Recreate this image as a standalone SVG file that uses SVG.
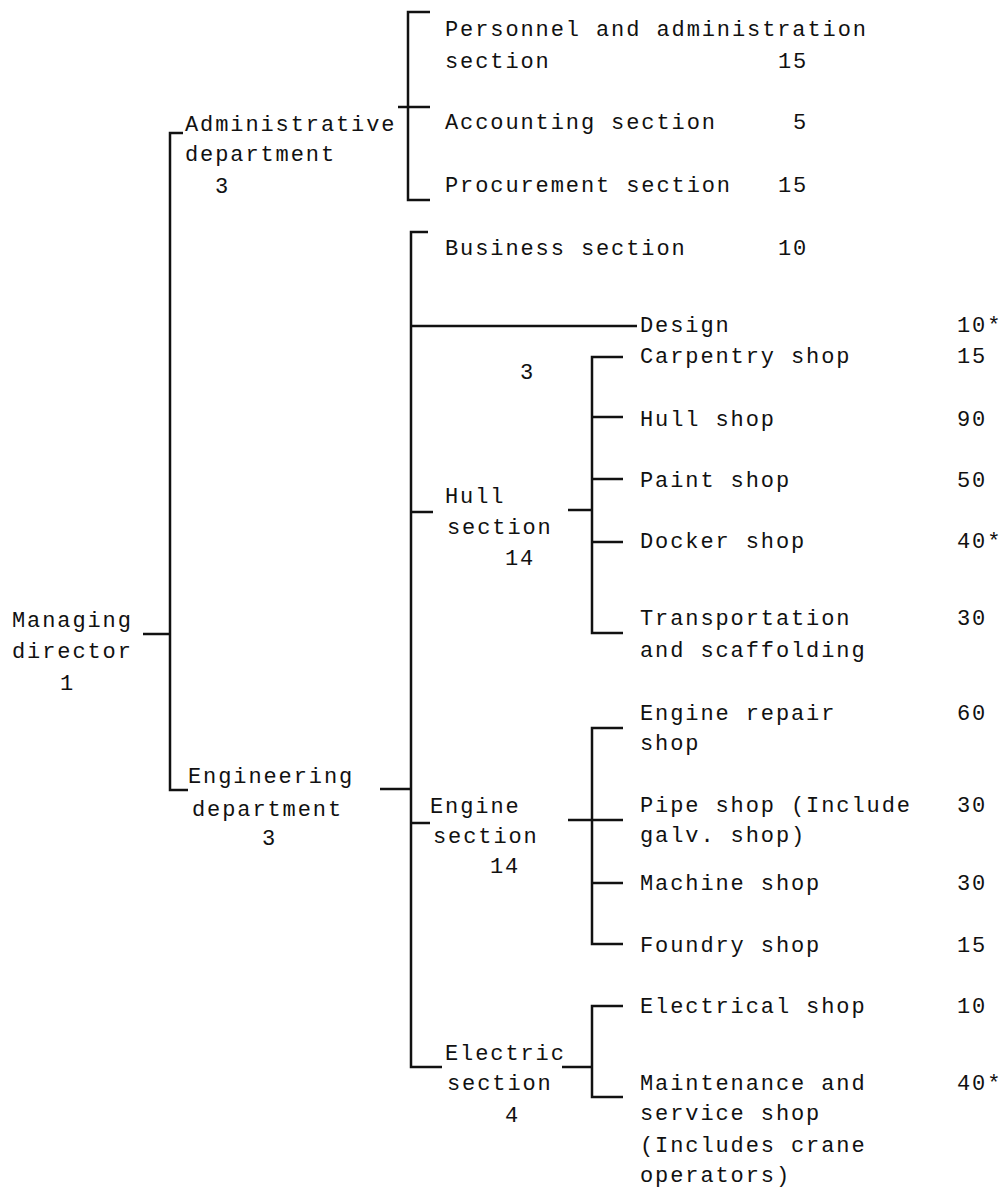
<svg xmlns="http://www.w3.org/2000/svg" width="1005" height="1189" viewBox="0 0 1005 1189">
<style>
text{font-family:"Liberation Mono","DejaVu Sans Mono",monospace;font-size:22px;letter-spacing:1.9px;fill:#111}
.ln{stroke:#111;stroke-width:2.5;fill:none}
</style>
<rect width="1005" height="1189" fill="#fff"/>
<g id="connectors" class="ln">
<path d="M143 634H170M183 133H170V790H188"/>
<path d="M430 12H408V200H430M398 107H430"/>
<path d="M380 789H411M428 232H411V1067H442M411 326H637M411 512H433M411 823H430"/>
<path d="M568 510H592M623 357H592V633H623M592 417H623M592 479H623M592 542H623"/>
<path d="M568 820H623M623 728H592V944H623M592 883H623"/>
<path d="M562 1067H592M623 1006H592V1097H623"/>
</g>
<g id="managing-director"><text x="12" y="627">Managing</text><text x="12" y="658">director</text><text x="60" y="690">1</text></g>
<g id="administrative-department"><text x="185" y="131">Administrative</text><text x="185" y="161">department</text><text x="215" y="193">3</text></g>
<g id="personnel-section"><text x="445" y="36">Personnel and administration</text><text x="445" y="68">section</text><text x="778" y="68">15</text></g>
<g id="accounting-section"><text x="445" y="129">Accounting section</text><text x="793" y="129">5</text></g>
<g id="procurement-section"><text x="445" y="192">Procurement section</text><text x="778" y="192">15</text></g>
<g id="engineering-department"><text x="188" y="783">Engineering</text><text x="192" y="816">department</text><text x="262" y="845">3</text></g>
<g id="business-section"><text x="445" y="255">Business section</text><text x="778" y="255">10</text></g>
<g id="design"><text x="640" y="332">Design</text><text x="957" y="332">10*</text><text x="520" y="379">3</text></g>
<g id="hull-section"><text x="445" y="503">Hull</text><text x="447" y="534">section</text><text x="505" y="565">14</text></g>
<g id="carpentry-shop"><text x="640" y="363">Carpentry shop</text><text x="957" y="363">15</text></g>
<g id="hull-shop"><text x="640" y="426">Hull shop</text><text x="957" y="426">90</text></g>
<g id="paint-shop"><text x="640" y="487">Paint shop</text><text x="957" y="487">50</text></g>
<g id="docker-shop"><text x="640" y="548">Docker shop</text><text x="957" y="548">40*</text></g>
<g id="transportation"><text x="640" y="625">Transportation</text><text x="640" y="657">and scaffolding</text><text x="957" y="625">30</text></g>
<g id="engine-section"><text x="430" y="813">Engine</text><text x="433" y="843">section</text><text x="490" y="873">14</text></g>
<g id="engine-repair-shop"><text x="640" y="720">Engine repair</text><text x="640" y="750">shop</text><text x="957" y="720">60</text></g>
<g id="pipe-shop"><text x="640" y="812">Pipe shop (Include</text><text x="640" y="842">galv. shop)</text><text x="957" y="812">30</text></g>
<g id="machine-shop"><text x="640" y="890">Machine shop</text><text x="957" y="890">30</text></g>
<g id="foundry-shop"><text x="640" y="952">Foundry shop</text><text x="957" y="952">15</text></g>
<g id="electric-section"><text x="445" y="1060">Electric</text><text x="447" y="1090">section</text><text x="505" y="1122">4</text></g>
<g id="electrical-shop"><text x="640" y="1013">Electrical shop</text><text x="957" y="1013">10</text></g>
<g id="maintenance-shop"><text x="640" y="1090">Maintenance and</text><text x="640" y="1120">service shop</text><text x="640" y="1152">(Includes crane</text><text x="640" y="1182">operators)</text><text x="957" y="1090">40*</text></g>
</svg>
